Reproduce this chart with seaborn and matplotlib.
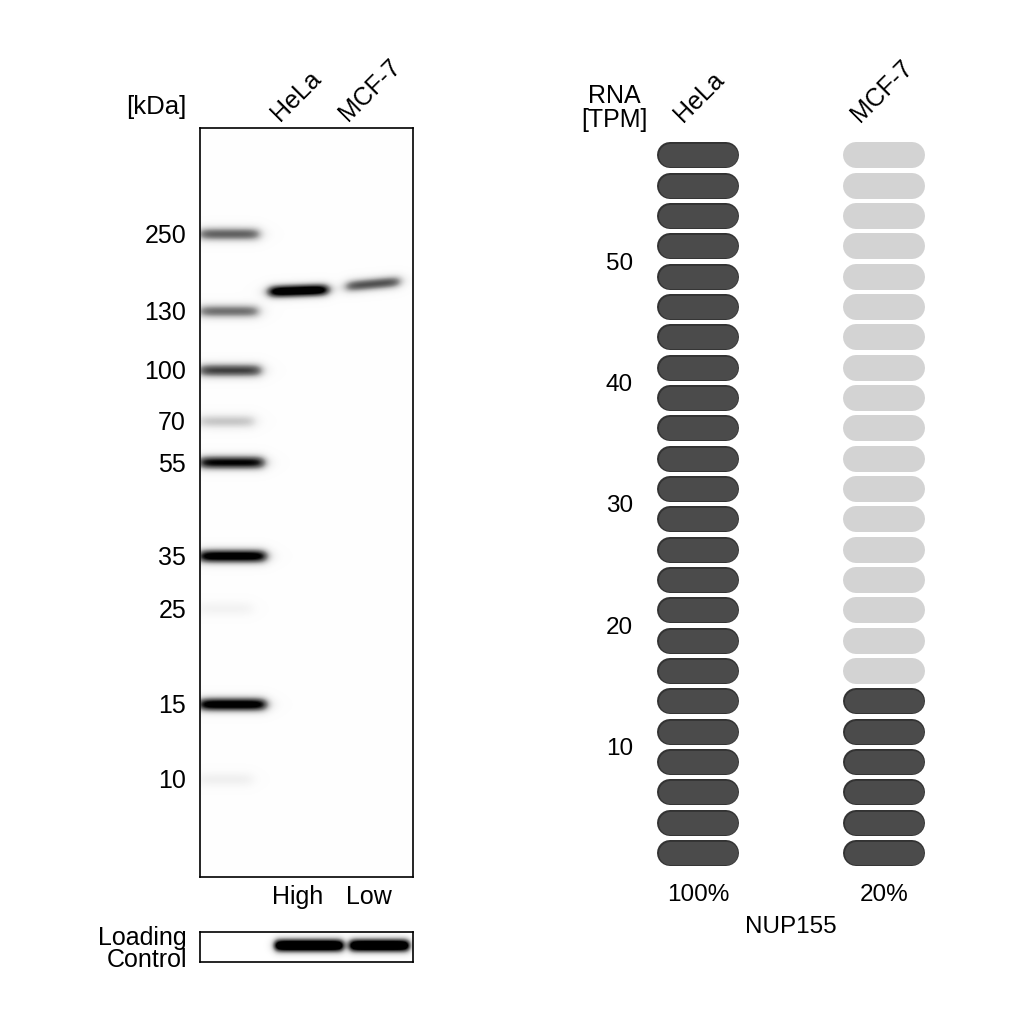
import numpy as np
import pandas as pd
import seaborn as sns
import matplotlib.pyplot as plt
import matplotlib.transforms as mtransforms

sns.set_style("white")
plt.rcParams["font.family"] = ["Liberation Sans", "DejaVu Sans"]
plt.rcParams["text.color"] = "black"
plt.rcParams["ytick.color"] = "black"
plt.rcParams["ytick.labelcolor"] = "black"

# --- western blot data ---
marker_kda = ["250", "130", "100", "70", "55", "35", "25", "15", "10"]
marker_migration = [0.141, 0.244, 0.323, 0.391, 0.446, 0.571, 0.641, 0.769, 0.869]
marker_intensity = [0.6, 0.55, 0.7, 0.28, 0.88, 1.0, 0.08, 1.0, 0.1]

lanes = ["HeLa", "MCF-7"]
lane_levels = ["High", "Low"]
band_migration = [0.218, 0.211]
band_intensity = [1.0, 0.6]
loading_intensity = [1.0, 1.0]

# --- RNA data ---
rna_samples = ["HeLa", "MCF-7"]
rna_tpm = [70.0, 14.0]
gene = "NUP155"
tpm_ticks = [10, 20, 30, 40, 50]

# geometry (gel pixels)
H, W = 749, 213
lane_x = [(68, 128), (145, 200)]
lane_tilt = [-2, -5]
load_x = [(74, 143), (149, 209)]

rows = np.arange(H)[:, None]
cols = np.arange(W)[None, :]


def band(r, y0, x0, x1, amp, sigma=5.0, tilt=0.0, soft=3.5):
    yc = y0 + tilt * (cols - x0) / (x1 - x0)
    xprof = 1 / (1 + np.exp(-(cols - x0) / soft)) * 1 / (1 + np.exp((cols - x1) / soft))
    return amp * np.exp(-0.5 * ((r - yc) / sigma) ** 2) * xprof


gel = np.zeros((H, W))
for m, a in zip(marker_migration, marker_intensity):
    gel += band(rows, m * H, -2, 50 + 16 * a, a * 1.15)
for i, (m, a) in enumerate(zip(band_migration, band_intensity)):
    gel += band(rows, m * H, lane_x[i][0], lane_x[i][1], a * 1.25, sigma=4.6,
                tilt=lane_tilt[i])
gel = np.clip(gel, 0, 1) * 0.98 + 0.015

LH = 30
lrows = np.arange(LH)[:, None]
load = np.zeros((LH, W))
for i, a in enumerate(loading_intensity):
    load += band(lrows, 13, load_x[i][0], load_x[i][1], a * 1.4, sigma=4.8, soft=2.2)
load = np.clip(load, 0, 1)

fig = plt.figure(figsize=(10.24, 10.24), dpi=100)
px = lambda x0, y0, w, h: [x0 / 1024, 1 - (y0 + h) / 1024, w / 1024, h / 1024]

ax = fig.add_axes(px(200, 128, 213, 749))
sns.heatmap(gel, ax=ax, cmap="Greys", vmin=0, vmax=1, cbar=False,
            xticklabels=False, yticklabels=False)
ax.set_yticks(np.array(marker_migration) * H)
ax.set_yticklabels(marker_kda, fontsize=18, rotation=0)
ax.tick_params(axis="y", length=0, pad=10)
ax.set_xticks([])
for s in ax.spines.values():
    s.set_visible(True)
    s.set_color("black")
    s.set_linewidth(1.2)

trans = mtransforms.blended_transform_factory(ax.transData, ax.transAxes)
for i, lvl in enumerate(lane_levels):
    xc = (lane_x[i][0] + lane_x[i][1]) / 2 - 4 * i
    ax.text(xc, -0.027, lvl, transform=trans, ha="center", va="center", fontsize=18)
    ax.text(xc - 18 - 2 * i, 1.008, lanes[i], transform=trans, ha="left",
            va="baseline", rotation=45, rotation_mode="anchor", fontsize=18)

fig.text(156 / 1024, 1 - 107 / 1024, "[kDa]", ha="center", va="center", fontsize=18.5)

axl = fig.add_axes(px(200, 932, 213, 30))
sns.heatmap(load, ax=axl, cmap="Greys", vmin=0, vmax=1, cbar=False,
            xticklabels=False, yticklabels=False)
for s in axl.spines.values():
    s.set_visible(True)
    s.set_color("black")
    s.set_linewidth(1.2)
fig.text(187 / 1024, 1 - 949 / 1024, "Loading\nControl", ha="right", va="center",
         fontsize=18, linespacing=0.92)

# --- RNA pills ---
n_pills = 24
step = 2.5
ax2 = fig.add_axes(px(640, 140, 300, 728))
ax2.set_xlim(-(698 - 640) / 186, 1 + (940 - 884) / 186)
ax2.set_ylim(0, n_pills * step)
half = 28 / 186
pill_w = 26 * 72 / 100
pills = pd.DataFrame([(j, i, i < min(n_pills, int(np.ceil(t / step))))
                      for j, t in enumerate(rna_tpm) for i in range(n_pills)],
                     columns=["sample", "level", "filled"])
for _, p in pills.iterrows():
    y = p["level"] * step + step / 2
    xs = [p["sample"] - half, p["sample"] + half]
    if p["filled"]:
        ax2.plot(xs, [y, y], lw=pill_w, color="#333333", solid_capstyle="round")
        ax2.plot(xs, [y, y], lw=pill_w - 2.0, color="#4b4b4b", solid_capstyle="round")
    else:
        ax2.plot(xs, [y, y], lw=pill_w, color="#d3d3d3", solid_capstyle="round")

ax2.set_yticks(tpm_ticks)
ax2.set_yticklabels([str(t) for t in tpm_ticks], fontsize=17.5)
ax2.tick_params(axis="y", length=0, pad=5)
ax2.set_xticks([])
sns.despine(ax=ax2, left=True, bottom=True)

trans2 = mtransforms.blended_transform_factory(ax2.transData, ax2.transAxes)
top = max(rna_tpm)
for j, s in enumerate(rna_samples):
    ax2.text(j, -0.037, f"{round(100 * rna_tpm[j] / top)}%", transform=trans2,
             ha="center", va="center", fontsize=17.5)
    ax2.text(j - 0.08 - 0.05 * j, 1.023, s, transform=trans2, ha="left", va="baseline",
             rotation=45, rotation_mode="anchor", fontsize=18)
ax2.text(0.5, -0.081, gene, transform=trans2, ha="center", va="center", fontsize=17.5)
fig.text(614 / 1024, 1 - 108 / 1024, "RNA\n[TPM]", ha="center", va="center",
         fontsize=18, linespacing=0.95)

fig.savefig("out.png", dpi=100, facecolor="white")
